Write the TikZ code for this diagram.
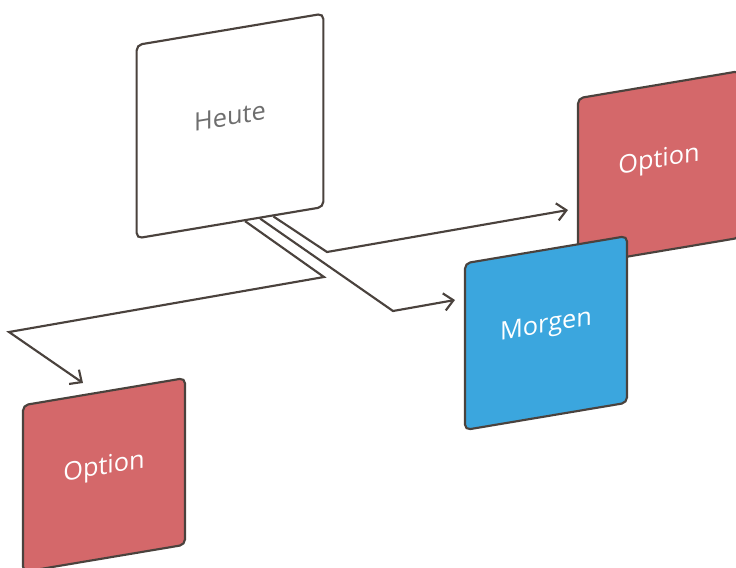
\documentclass[tikz,border=0pt]{standalone}
\usepackage{fontspec}
\setmainfont{Open Sans}
\usetikzlibrary{calc}
\usetikzlibrary{positioning}
\usetikzlibrary{arrows.meta}
\definecolor{optred}{RGB}{212,104,106}
\definecolor{morgenblue}{RGB}{59,166,222}
\definecolor{edgegrey}{RGB}{74,66,61}
\definecolor{heutegrey}{RGB}{110,110,110}

\begin{document}
\begin{tikzpicture}[x=0.75pt, y=-0.75pt, >={Straight Barb[length=7pt,width=13pt]}, font=\fontsize{19}{21}\selectfont]
    \tikzstyle{panel}=[draw=edgegrey, line width=1.6pt, rounded corners=4pt, rectangle, minimum width=121.5pt, minimum height=125pt, inner sep=0pt, text height=0pt, text depth=1pt, yslant=0.168, text=white]
    \tikzstyle{link}=[->, draw=edgegrey, line width=1.6pt]

    \useasboundingbox (0,0) rectangle (736,568);

    % panels
    \node[panel, fill=optred] (optR) at (659,168) {Option};
    \node[panel, fill=morgenblue] (morgen) at (546,333) {Morgen};
    \node[panel, fill=optred] (optL) at (104,475) {Option};
    \node[panel, fill=white, text=heutegrey, minimum width=140pt, minimum height=145pt] (heute) at (230,126) {Heute};

    % bends and free ends
    \coordinate (bendA) at (324,277);
    \coordinate (turnA) at (9,332);
    \coordinate (tipA) at (83,383);
    \coordinate (bendB) at (393,311);
    \coordinate (tipB) at (455,300);
    \coordinate (bendC) at (327,252);
    \coordinate (tipC) at (568,210);

    \draw[link] ($(heute.south west)!0.58!(heute.south east)$) -- (bendA) -- (turnA) -- (tipA);
    \draw[link] ($(heute.south west)!0.66!(heute.south east)$) -- (bendB) -- (tipB);
    \draw[link] ($(heute.south west)!0.73!(heute.south east)$) -- (bendC) -- (tipC);
\end{tikzpicture}
\end{document}
